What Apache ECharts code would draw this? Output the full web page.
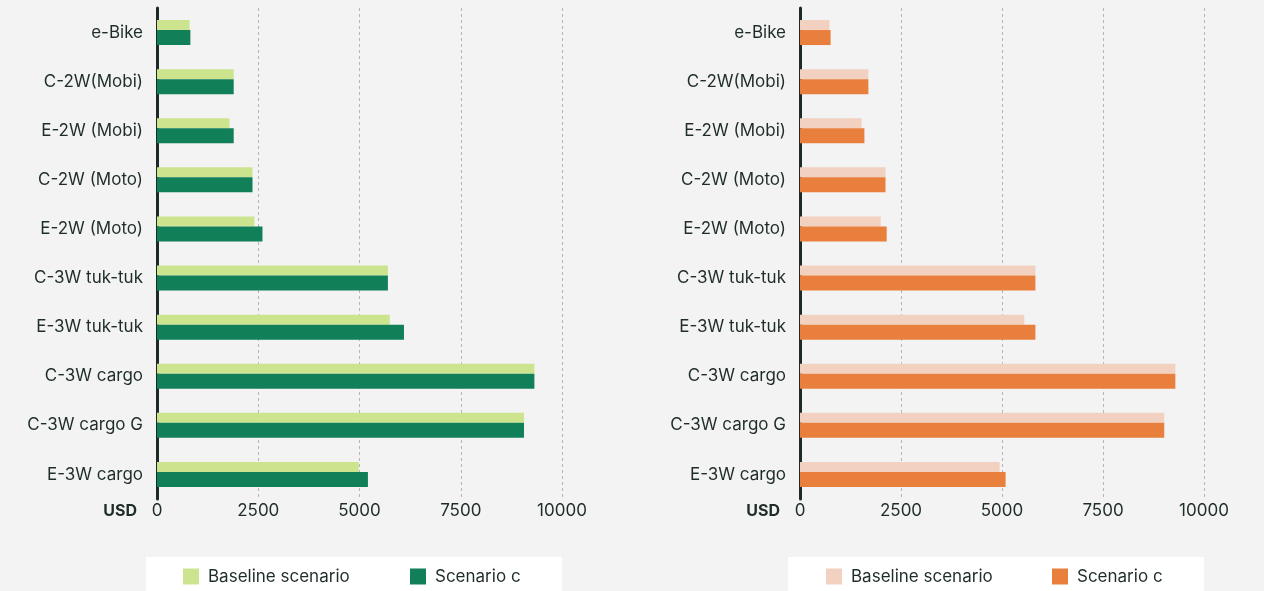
<!DOCTYPE html>
<html>
<head>
<meta charset="utf-8">
<script src="https://cdn.jsdelivr.net/npm/echarts@6/dist/echarts.min.js"></script>
<style>
html,body{margin:0;padding:0;background:#f3f3f3;}
#chart{width:1264px;height:591px;}
</style>
</head>
<body>
<div id="chart"></div>
<script>
const categories = ['e-Bike','C-2W(Mobi)','E-2W (Mobi)','C-2W (Moto)','E-2W (Moto)','C-3W tuk-tuk','E-3W tuk-tuk','C-3W cargo','C-3W cargo G','E-3W cargo'];
const greenBaseline  = [805, 1894, 1790, 2358, 2405, 5701, 5748, 9318, 9062, 4981];
const greenScenarioC = [824, 1894, 1894, 2358, 2604, 5701, 6098, 9318, 9062, 5208];
const orangeBaseline  = [728, 1693, 1526, 2116, 1998, 5827, 5551, 9291, 9016, 4941];
const orangeScenarioC = [758, 1693, 1594, 2116, 2146, 5827, 5827, 9291, 9016, 5089];
const xTickLabels = ['0','2500','5000','7500','10000'];
const seriesNames = ['Baseline scenario','Scenario c'];
const unitLabel = 'USD';

const FONT = 'Inter';
const TXT = '#1f2d2a';
const chart = echarts.init(document.getElementById('chart'));

function xAxisCfg(gi){
  return {
    gridIndex: gi, type:'value', min:0, max:10000, interval:2500,
    axisLine:{show:false}, axisTick:{show:false},
    axisLabel:{fontFamily:FONT, fontSize:17, color:TXT, margin:3,
      formatter:function(v){ return xTickLabels[Math.round(v/2500)]; }},
    splitLine:{show:true, lineStyle:{color:'#b5b5b5', type:[3,3], width:1}},
    name: unitLabel, nameLocation:'start', nameGap:20,
    nameTextStyle:{fontFamily:FONT, fontSize:16, fontWeight:'bold', color:TXT, verticalAlign:'top', padding:[4,0,0,0]}
  };
}
function yAxisCfg(gi){
  return {
    gridIndex: gi, type:'category', data:categories, inverse:true,
    axisLine:{show:true, lineStyle:{color:'#1d2b28', width:3}},
    axisTick:{show:false},
    axisLabel:{fontFamily:FONT, fontSize:17, color:TXT, margin:14},
    splitLine:{show:false}
  };
}
function legendCfg(left, name, color){
  return {
    left:left, top:568, padding:0, itemWidth:16, itemHeight:16, icon:'rect',
    selectedMode:false,
    textStyle:{fontFamily:FONT, fontSize:17, color:TXT, padding:[0,0,0,4]},
    data:[{name:name, itemStyle:{color:color}}]
  };
}
const option = {
  backgroundColor:'#f3f3f3',
  animation:false,
  graphic:[
    {type:'rect', left:146, top:557, shape:{width:416, height:40}, style:{fill:'#ffffff'}, z:-1},
    {type:'rect', left:788, top:557, shape:{width:416, height:40}, style:{fill:'#ffffff'}, z:-1}
  ],
  grid:[
    {left:157, right:702, top:8, bottom:92},
    {left:800, right:60, top:8, bottom:92}
  ],
  xAxis:[xAxisCfg(0), xAxisCfg(1)],
  yAxis:[yAxisCfg(0), yAxisCfg(1)],
  legend:[
    legendCfg(183, seriesNames[0], '#cde48e'),
    legendCfg(410, seriesNames[1], '#117f58'),
    legendCfg(826, seriesNames[0], '#f2d1c0'),
    legendCfg(1052, seriesNames[1], '#e97f3d')
  ],
  series:[
    {type:'bar', name:seriesNames[0], xAxisIndex:0, yAxisIndex:0, data:greenBaseline, barWidth:10, barGap:'0%', itemStyle:{color:'#cde48e'}},
    {type:'bar', name:seriesNames[1], xAxisIndex:0, yAxisIndex:0, data:greenScenarioC, barWidth:15, barGap:'0%', itemStyle:{color:'#117f58'}},
    {type:'bar', name:seriesNames[0], xAxisIndex:1, yAxisIndex:1, data:orangeBaseline, barWidth:10, barGap:'0%', itemStyle:{color:'#f2d1c0'}},
    {type:'bar', name:seriesNames[1], xAxisIndex:1, yAxisIndex:1, data:orangeScenarioC, barWidth:15, barGap:'0%', itemStyle:{color:'#e97f3d'}}
  ]
};
chart.setOption(option);
</script>
</body>
</html>
